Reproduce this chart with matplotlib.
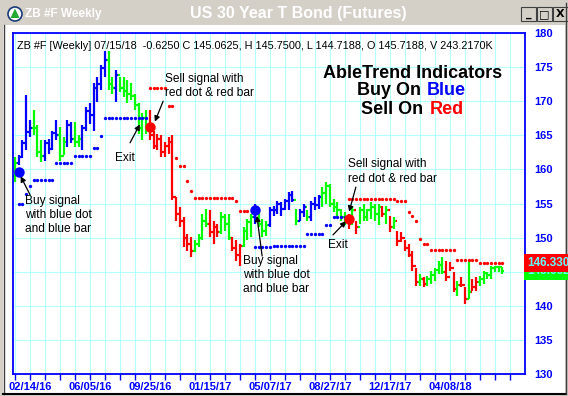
import numpy as np
import pandas as pd
import matplotlib
matplotlib.use('Agg')
import matplotlib.pyplot as plt
import matplotlib.transforms as mtransforms
from matplotlib.patches import Rectangle, Circle, Polygon

plt.rcParams['font.family'] = ['Liberation Sans', 'DejaVu Sans']

# weekly bars, first bar 01/17/16, last 07/15/18
dates = pd.date_range('2016-01-17', periods=131, freq='7D')

highs = [161.8, 162.1, 164.3, 170.9, 167.2, 168.7, 166.5, 164.3, 164.3, 164.5,
         165.7, 167.2, 166.2, 164.8, 167.2, 167.0, 167.0, 165.0, 166.5, 169.2,
         169.7, 172.6, 173.6, 175.3, 177.3, 177.3, 173.6, 174.6, 173.6, 173.6,
         173.1, 172.6, 171.1, 169.7, 168.2, 168.7, 168.7, 165.7, 165.2, 165.0,
         164.0, 164.8, 165.0, 155.9, 154.5, 153.0, 150.5, 150.1, 149.6, 150.5,
         153.5, 154.2, 154.0, 152.5, 152.0, 153.7, 153.5, 153.5, 150.1, 149.6,
         149.1, 151.5, 152.8, 153.5, 155.0, 153.7, 152.7, 152.5, 154.5, 154.7,
         155.4, 155.2, 155.7, 156.7, 156.9, 154.2, 154.2, 155.0, 154.0, 155.4,
         155.9, 156.2, 157.4, 158.1, 157.9, 155.7, 155.2, 154.2, 153.7, 153.5,
         154.5, 152.5, 154.5, 155.0, 154.2, 155.2, 155.0, 155.0, 154.7, 154.7,
         153.2, 153.0, 151.0, 150.8, 149.6, 149.1, 148.1, 145.6, 144.7, 144.2,
         144.4, 145.1, 145.6, 146.6, 147.1, 146.6, 146.4, 144.9, 143.7, 144.2,
         142.7, 146.6, 143.9, 144.2, 144.4, 145.15, 144.9, 145.9, 145.9, 145.9,
         145.75]
lows = [158.2, 160.6, 161.6, 162.8, 164.8, 165.0, 161.8, 161.1, 161.3, 162.3,
        162.8, 164.3, 161.3, 162.1, 163.3, 163.8, 163.3, 163.3, 162.8, 165.7,
        166.7, 165.7, 169.9, 171.6, 173.6, 171.6, 171.1, 169.9, 171.4, 170.6,
        169.7, 170.2, 168.7, 165.2, 164.3, 165.2, 164.3, 163.0, 162.8, 161.8,
        161.8, 162.3, 155.5, 152.5, 151.5, 148.6, 148.1, 147.1, 147.9, 148.6,
        149.6, 151.5, 150.1, 149.1, 150.1, 150.5, 151.0, 149.6, 148.1, 146.6,
        145.9, 148.6, 149.6, 150.1, 152.0, 151.5, 150.1, 150.3, 151.5, 153.2,
        153.5, 153.2, 154.0, 154.0, 155.2, 151.8, 152.5, 153.0, 152.5, 152.5,
        154.0, 154.2, 154.5, 155.0, 154.5, 153.7, 153.0, 152.5, 151.8, 151.3,
        151.8, 150.5, 152.0, 152.5, 152.5, 152.8, 152.5, 151.8, 153.0, 152.0,
        150.8, 151.3, 148.8, 149.3, 148.1, 147.1, 145.1, 142.9, 142.9, 142.7,
        142.9, 143.2, 143.7, 144.7, 144.7, 143.7, 145.1, 142.0, 141.5, 142.7,
        140.25, 141.0, 142.2, 142.2, 142.95, 143.2, 143.9, 143.9, 144.9, 144.9,
        144.72]
closes = [161.0, 161.8, 163.8, 165.5, 166.0, 166.0, 162.5, 162.0, 163.8, 163.0,
          165.3, 165.0, 162.0, 164.0, 166.5, 164.5, 164.0, 164.5, 166.0, 168.5,
          168.0, 172.0, 172.5, 174.8, 176.0, 172.5, 172.0, 173.8, 172.0, 171.5,
          171.0, 170.8, 169.5, 166.0, 167.5, 166.5, 165.0, 163.5, 164.5, 162.5,
          163.5, 164.0, 156.0, 153.5, 152.5, 150.0, 149.0, 148.0, 149.0, 150.0,
          152.5, 152.0, 150.8, 151.5, 150.8, 153.0, 152.0, 150.0, 148.5, 147.5,
          148.8, 151.0, 152.3, 153.0, 153.8, 152.0, 151.0, 151.8, 154.0, 154.0,
          155.0, 154.2, 155.3, 156.2, 155.5, 152.5, 153.8, 154.5, 153.0, 155.0,
          154.8, 156.0, 156.5, 157.5, 155.0, 154.5, 154.0, 153.0, 153.0, 152.0,
          154.0, 151.5, 154.0, 153.0, 154.0, 154.5, 153.5, 154.5, 153.5, 154.0,
          151.5, 152.5, 149.5, 150.0, 148.5, 147.5, 145.8, 143.5, 144.0, 143.2,
          144.0, 144.5, 145.2, 146.0, 145.0, 144.2, 145.5, 142.5, 143.0, 143.0,
          141.0, 142.0, 142.8, 143.5, 144.0, 144.8, 144.5, 145.5, 145.7, 145.7188,
          145.0625]
first_open = 159.0

bar_colors = ("gbbbb" "ggg" "bbbb" "gg" "bb" "gg" "bbbbbbb" "gg" "b" "gggggggg"
              "r" "rrrrrrrrrrr" "gggg" "rrr" "ggg" "rrr" "ggg"
              "b" "ggg" "bbbbbbb" "g" "bb" "g" "bbb" "ggggggg"
              "r" "g" "r" "gggggg" "r" "g" "r" "g" "rrrrrr" "g" "r" "ggggg"
              "rrr" "g" "rr" "g" "rr" "ggggggg")

# trailing stops: (first bar, last bar, level)
blue_stop_runs = [(1, 2, 155.0), (3, 3, 156.4), (4, 4, 157.6), (5, 10, 158.5),
                  (11, 15, 160.9), (16, 20, 162.0), (21, 22, 163.1), (23, 23, 164.9),
                  (24, 35, 167.6), (64, 68, 148.6), (69, 77, 148.8), (78, 82, 150.5),
                  (83, 84, 151.9), (85, 88, 153.0)]
red_stop_runs = [(36, 40, 172.0), (41, 42, 169.3), (43, 43, 161.7), (44, 45, 160.45),
                 (46, 46, 158.3), (47, 47, 156.8), (48, 58, 155.8), (59, 59, 155.35),
                 (60, 62, 153.9), (89, 101, 155.7), (102, 104, 155.3), (105, 105, 153.7),
                 (106, 106, 153.2), (107, 107, 152.4), (108, 108, 149.8), (109, 110, 149.1),
                 (111, 117, 148.2), (118, 123, 146.68), (124, 130, 146.33)]

buy_bars = [1, 64]
buy_prices = [159.6, 154.0]
sell_bars = [36, 89]
sell_prices = [166.2, 152.75]

color_map = {'b': '#0000ff', 'g': '#00ff00', 'r': '#ff0000'}

n = len(dates)
x = np.arange(n)
opens = [first_open] + closes[:-1]

fig = plt.figure(figsize=(5.68, 3.96), dpi=100)

# window chrome
bg = fig.add_axes([0, 0, 1, 1])
bg.set_xlim(0, 568)
bg.set_ylim(396, 0)
bg.axis('off')
bg.add_patch(Rectangle((0, 0), 568, 396, fc='#d4d0c8', ec='none'))
bg.add_patch(Rectangle((3, 25), 562, 368, fc='white', ec='none'))
bg.plot([3.5, 3.5], [25, 394], color='#404040', lw=1)
bg.plot([3, 566], [394, 394], color='black', lw=1.5)
bg.plot([565.5, 565.5], [3, 394], color='#404040', lw=1)
grad = np.linspace(0, 1, 256).reshape(1, -1)
c0 = np.array([10, 36, 106]) / 255
c1 = np.array([166, 202, 240]) / 255
img = c0[None, None, :] * (1 - grad[..., None]) + c1[None, None, :] * grad[..., None]
bg.imshow(img, extent=(3, 568, 24, 3), aspect='auto')
bg.add_patch(Circle((15, 14), 7, fc='white', ec='#1a3a7a', lw=1.2))
bg.add_patch(Polygon([[15, 8.5], [10.5, 18], [19.5, 18]], fc='#22aa33', ec='none'))
bg.text(25, 14, 'ZB #F Weekly', color='white', fontsize=8.5, fontweight='bold',
        va='center', ha='left')
bg.text(298, 13.5, 'US 30 Year T Bond (Futures)', color='white', fontsize=11.5,
        fontweight='bold', va='center', ha='center')
for bx, sym in [(521, '_'), (537, '□'), (553, 'X')]:
    bg.add_patch(Rectangle((bx, 7), 15, 14, fc='#d4d0c8', ec='#404040', lw=0.8))
    bg.text(bx + 7.5, 14, sym, fontsize=8, fontweight='bold', color='black',
            ha='center', va='center', family=['DejaVu Sans'])

# price chart
ax = fig.add_axes([13 / 568, 22 / 396, 512 / 568, 341 / 396])
ax.set_facecolor('white')
ax.set_xlim(-0.53, 136)
ax.set_ylim(130, 180)

xticks = np.arange(0, 133, 4)
xlabels = []
for t in xticks:
    if t >= 4 and (t - 4) % 16 == 0 and t < n:
        xlabels.append(dates[t].strftime('%m/%d/%y'))
    else:
        xlabels.append('')
ax.set_xticks(xticks)
ax.set_xticklabels(xlabels)
ax.set_yticks(np.arange(130, 181, 5))
ax.yaxis.tick_right()
ax.grid(True, color='#b4ffff', lw=0.8)
ax.set_axisbelow(True)
ax.tick_params(axis='x', colors='#0000ff', length=4, width=1, pad=2, labelsize=8)
ax.tick_params(axis='y', colors='#0000ff', length=0, pad=7, labelsize=8)
for lab in ax.get_xticklabels() + ax.get_yticklabels():
    lab.set_fontweight('bold')
for sp in ax.spines.values():
    sp.set_color('#0000ff')
    sp.set_linewidth(1.3)

cols = [color_map[c] for c in bar_colors]
ax.vlines(x, lows, highs, colors=cols, lw=1.6)
ax.hlines(opens, x - 0.5, x, colors=cols, lw=1.6)
ax.hlines(closes, x, x + 0.5, colors=cols, lw=1.6)

blue_stop = np.full(n, np.nan)
for a, b, v in blue_stop_runs:
    blue_stop[a:b + 1] = v
red_stop = np.full(n, np.nan)
for a, b, v in red_stop_runs:
    red_stop[a:b + 1] = v
ax.plot(x, blue_stop, 'o', color='#0000ff', ms=2.4, mew=0)
ax.plot(x, red_stop, 'o', color='#ff0000', ms=2.4, mew=0)

ax.plot(buy_bars, buy_prices, 'o', color='#0000ff', ms=7.5, mew=0, zorder=5)
ax.plot(sell_bars, sell_prices, 'o', color='#ff0000', ms=7.5, mew=0, zorder=5)

# annotations
arrow = dict(arrowstyle='-|>', color='black', lw=0.9, mutation_scale=8,
             shrinkA=0, shrinkB=0)
fs = 8.6
ax.text(2.67, 156.3, 'Buy signal\nwith blue dot\nand blue bar', fontsize=fs,
        va='top', ha='left', linespacing=1.25)
ax.annotate('', xy=(1.5, 159.0), xytext=(4.0, 156.3), arrowprops=arrow)
ax.text(29.3, 161.67, 'Exit', fontsize=fs, va='center', ha='center')
ax.annotate('', xy=(33.3, 166.6), xytext=(30.67, 163.9), arrowprops=arrow)
ax.text(40.0, 174.1, 'Sell signal with\nred dot & red bar', fontsize=fs,
        va='top', ha='left', linespacing=1.25)
ax.annotate('', xy=(37.3, 167.0), xytext=(39.5, 170.0), arrowprops=arrow)
ax.text(60.8, 147.5, 'Buy signal\nwith blue dot\nand blue bar', fontsize=fs,
        va='top', ha='left', linespacing=1.25)
ax.annotate('', xy=(64.5, 153.2), xytext=(65.9, 147.3), arrowprops=arrow)
ax.text(86.1, 148.9, 'Exit', fontsize=fs, va='center', ha='center')
ax.annotate('', xy=(88.3, 152.4), xytext=(84.8, 150.4), arrowprops=arrow)
ax.text(88.8, 161.6, 'Sell signal with\nred dot & red bar', fontsize=fs,
        va='top', ha='left', linespacing=1.25)
ax.annotate('', xy=(89.1, 153.8), xytext=(90.9, 157.4), arrowprops=arrow)

big = dict(fontsize=13, fontweight='bold', va='center')
ax.text(105.9, 174.1, 'AbleTrend Indicators', ha='center', color='black', **big)
ax.text(108.4, 171.5, 'Buy On', ha='right', color='black', **big)
ax.text(109.7, 171.5, 'Blue', ha='left', color='#0000ff', **big)
ax.text(108.8, 168.8, 'Sell On', ha='right', color='black', **big)
ax.text(110.5, 168.8, 'Red', ha='left', color='#ff0000', **big)

ax.text(0.008, 0.963,
        'ZB #F [Weekly] 07/15/18  -0.6250 C 145.0625, H 145.7500, L 144.7188, '
        'O 145.7188, V 243.2170K', transform=ax.transAxes, fontsize=7.8,
        va='center', ha='left', color='black')

# last value boxes on the price axis
trans = mtransforms.blended_transform_factory(ax.transAxes, ax.transData)
last_close = closes[-1]
last_stop = red_stop[-1]
ax.text(1.004, last_close, f'{last_close:.3f}', transform=trans, fontsize=8.5,
        fontweight='bold', color='#66ffff', va='center', ha='left', clip_on=False,
        bbox=dict(boxstyle='square,pad=0.25', fc='#00ff00', ec='none'))
ax.text(1.004, last_stop, f'{last_stop:.3f}', transform=trans, fontsize=8.5,
        fontweight='bold', color='#66ffff', va='center', ha='left', clip_on=False,
        bbox=dict(boxstyle='square,pad=0.25', fc='#ff0000', ec='none'))

fig.savefig('out.png', dpi=100)
